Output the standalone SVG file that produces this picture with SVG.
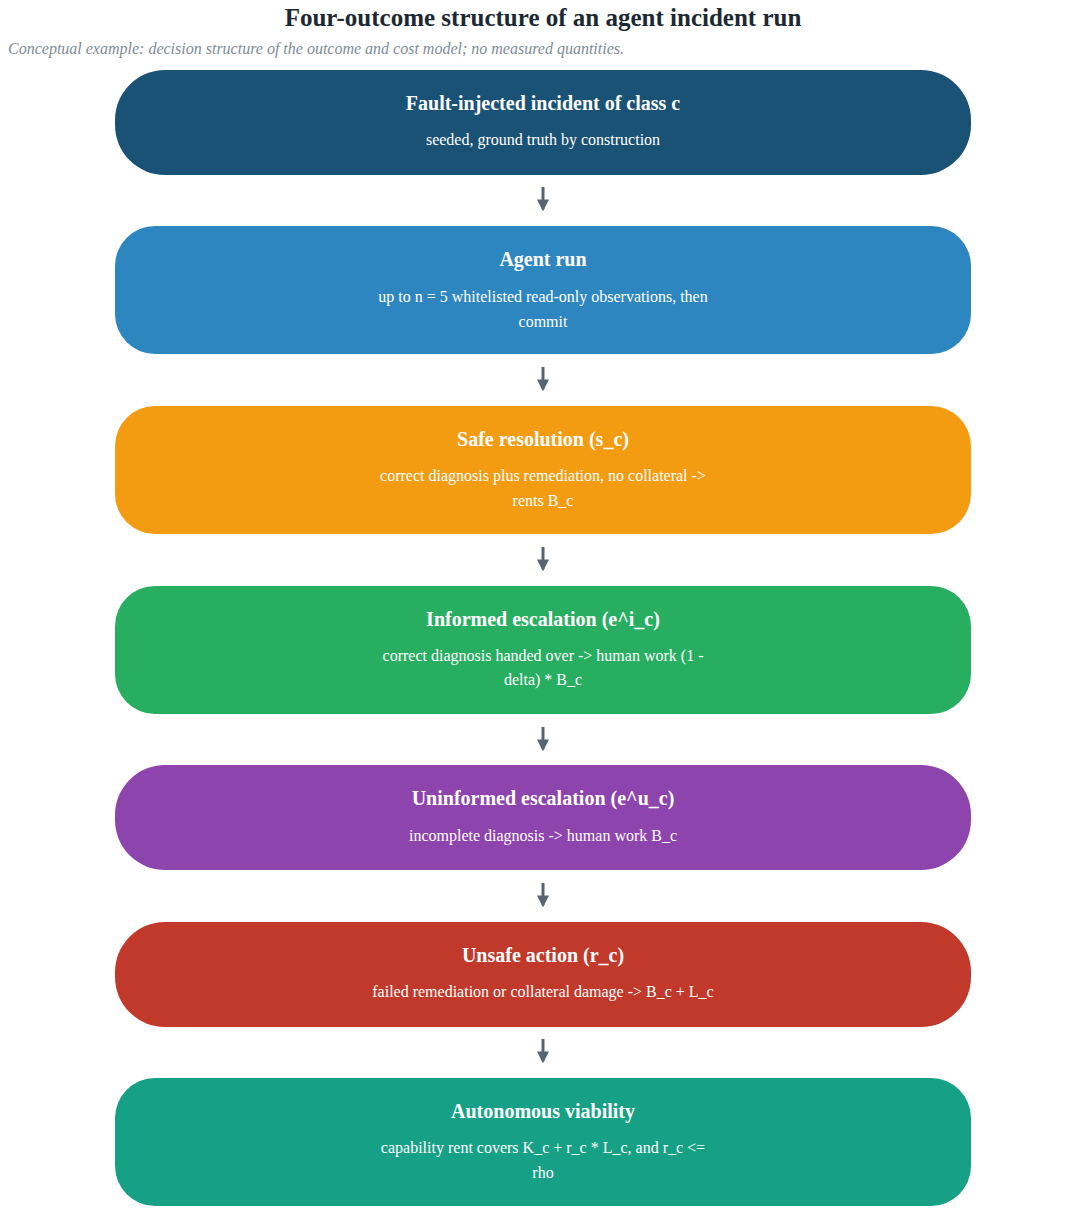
<svg xmlns="http://www.w3.org/2000/svg" width="1086" height="1214" viewBox="0 0 1086 1214">
<style>
.t{font-family:"Liberation Serif",serif;font-weight:bold;font-size:20px;fill:#fff;text-anchor:middle}
.s{font-family:"Liberation Serif",serif;font-size:16px;fill:#fff;text-anchor:middle}
.c{stroke:#566573;stroke-width:3;fill:none}
</style>
<defs><marker id="a" viewBox="0 0 10 10" refX="8" refY="5" markerWidth="4" markerHeight="4" orient="auto"><path d="M0,0 L10,5 L0,10 z" fill="#566573"/></marker></defs>
<rect width="1086" height="1214" fill="#fff"/>
<text x="543" y="26" font-family="Liberation Serif,serif" font-weight="bold" font-size="25" fill="#1c2833" text-anchor="middle">Four-outcome structure of an agent incident run</text>
<text x="8" y="54" font-family="Liberation Serif,serif" font-style="italic" font-size="16" fill="#808b96">Conceptual example: decision structure of the outcome and cost model; no measured quantities.</text>
<g id="connectors">
<line class="c" x1="543" y1="187" x2="543" y2="209" marker-end="url(#a)"/>
<line class="c" x1="543" y1="367" x2="543" y2="389" marker-end="url(#a)"/>
<line class="c" x1="543" y1="547" x2="543" y2="569" marker-end="url(#a)"/>
<line class="c" x1="543" y1="727" x2="543" y2="749" marker-end="url(#a)"/>
<line class="c" x1="543" y1="883" x2="543" y2="905" marker-end="url(#a)"/>
<line class="c" x1="543" y1="1039" x2="543" y2="1061" marker-end="url(#a)"/>
</g>
<g id="n1"><rect x="115" y="70" width="856" height="105" rx="50" fill="#1a5276"/><text class="t" x="543" y="110">Fault-injected incident of class c</text><text class="s" x="543" y="145">seeded, ground truth by construction</text></g>
<g id="n2"><rect x="115" y="226" width="856" height="128" rx="40" fill="#2e86c1"/><text class="t" x="543" y="266">Agent run</text><text class="s" x="543" y="302">up to n = 5 whitelisted read-only observations, then</text><text class="s" x="543" y="327">commit</text></g>
<g id="n3"><rect x="115" y="406" width="856" height="128" rx="40" fill="#f39c12"/><text class="t" x="543" y="446">Safe resolution (s_c)</text><text class="s" x="543" y="481">correct diagnosis plus remediation, no collateral -&gt;</text><text class="s" x="543" y="506">rents B_c</text></g>
<g id="n4"><rect x="115" y="586" width="856" height="128" rx="40" fill="#27ae60"/><text class="t" x="543" y="626">Informed escalation (e^i_c)</text><text class="s" x="543" y="661">correct diagnosis handed over -&gt; human work (1 -</text><text class="s" x="543" y="685">delta) * B_c</text></g>
<g id="n5"><rect x="115" y="765" width="856" height="105" rx="50" fill="#8e44ad"/><text class="t" x="543" y="805">Uninformed escalation (e^u_c)</text><text class="s" x="543" y="841">incomplete diagnosis -&gt; human work B_c</text></g>
<g id="n6"><rect x="115" y="922" width="856" height="105" rx="50" fill="#c0392b"/><text class="t" x="543" y="962">Unsafe action (r_c)</text><text class="s" x="543" y="997">failed remediation or collateral damage -&gt; B_c + L_c</text></g>
<g id="n7"><rect x="115" y="1078" width="856" height="128" rx="40" fill="#16a085"/><text class="t" x="543" y="1118">Autonomous viability</text><text class="s" x="543" y="1153">capability rent covers K_c + r_c * L_c, and r_c &lt;=</text><text class="s" x="543" y="1178">rho</text></g>
</svg>
